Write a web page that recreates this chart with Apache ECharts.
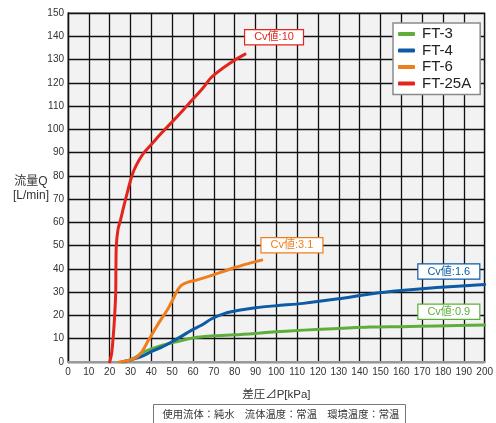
<!DOCTYPE html>
<html><head><meta charset="utf-8">
<script src="https://cdn.jsdelivr.net/npm/echarts@6/dist/echarts.min.js"></script>
<style>html,body{margin:0;padding:0;background:#fff}#c{width:496px;height:423px}</style>
</head><body><div id="c"></div>
<script>
const seriesNames = ['FT-3', 'FT-4', 'FT-6', 'FT-25A'];
const cvLabels = ['Cv値:0.9', 'Cv値:1.6', 'Cv値:3.1', 'Cv値:10'];
const ft3 = [[26,0],[30,1],[33,2.3],[35.4,3.9],[40,5.6],[45,7.1],[50,8.3],[56,9.6],[62,10.6],[70,11.3],[80,11.7],[90,12.3],[100,13],[113,13.7],[130,14.4],[145,15],[160,15.2],[177,15.5],[200,15.9]];
const ft4 = [[26,0],[30.6,1],[35.4,2.4],[40.2,4.6],[45,6.4],[49.7,8.6],[54.4,11],[59.2,13.6],[64,15.8],[69,18.6],[75,20.8],[82,22.2],[90,23.3],[100,24.2],[113,25.2],[130,27.2],[145,29.2],[160,30.7],[177,32],[200,33.3]];
const ft6 = [[24.6,0],[29,0.7],[33,2.1],[35.4,4.3],[38.6,9.3],[43.3,16.4],[48,22.9],[50.5,27.1],[52,30],[54.4,32.9],[57.6,34.3],[62,35.3],[69,37.2],[78.6,40.2],[86.5,42.3],[93,43.8]];
const ft25a = [[20,0],[21,4],[21.8,12],[22.4,20],[22.9,30],[23,40],[23.2,50],[24,57],[25.2,61],[26.8,67],[28.4,72.6],[30,78],[31.6,82.3],[34,86.6],[36.5,90],[40.5,94],[45,98.5],[50,103.2],[55,108],[59.5,112.5],[65,118],[69,122.5],[77,128],[85,132.3]];
const xTicks = {min: 0, max: 200, step: 10};
const yTicks = {min: 0, max: 150, step: 10};

const FONT = '"Liberation Sans", "Noto Sans CJK JP", sans-serif';
const colors = ['#5fae3c', '#0d5aa5', '#f07d1b', '#e3261c'];
const labelPos = [[182.8, 21.6], [182.8, 38.9], [107.5, 50.2], [98.9, 139.6]];
const datasets = [ft3, ft4, ft6, ft25a];

const chart = echarts.init(document.getElementById('c'), null, {renderer: 'canvas'});
chart.setOption({
  animation: false,
  textStyle: {fontFamily: FONT},
  grid: {left: 68, right: 8, top: 13, bottom: 61, show: true, backgroundColor: '#f2f2f2', borderColor: '#8a8a8a', borderWidth: 1.5},
  legend: {
    orient: 'vertical', left: 393, top: 23,
    backgroundColor: '#fff', borderColor: '#8a8a8a', borderWidth: 1.5,
    padding: [3, 9, 3, 5], itemGap: 0.5, itemWidth: 17, itemHeight: 4,
    icon: 'roundRect',
    textStyle: {fontSize: 15, color: '#222', fontFamily: FONT, lineHeight: 16, padding: [0, 0, 0, 2]},
    data: seriesNames
  },
  xAxis: {
    type: 'value', min: xTicks.min, max: xTicks.max, interval: xTicks.step,
    name: '差圧⊿P[kPa]', nameLocation: 'middle', nameGap: 27,
    nameTextStyle: {fontSize: 11.5, color: '#333', fontFamily: FONT},
    axisLine: {show: true, lineStyle: {color: '#9a9a9a', width: 2}},
    axisTick: {show: false},
    axisLabel: {fontSize: 10, color: '#333', margin: 5, fontFamily: FONT},
    splitLine: {show: true, lineStyle: {color: '#111', width: 1.3}}
  },
  yAxis: {
    type: 'value', min: yTicks.min, max: yTicks.max, interval: yTicks.step,
    axisLine: {show: true, lineStyle: {color: '#111', width: 1.3}},
    axisTick: {show: false},
    axisLabel: {fontSize: 10, color: '#333', margin: 4, fontFamily: FONT},
    splitLine: {show: true, lineStyle: {color: '#111', width: 1.3}}
  },
  series: datasets.map((d, i) => ({
    name: seriesNames[i], type: 'line', data: d,
    showSymbol: false, smooth: 0.3,
    color: colors[i],
    lineStyle: {width: 3, color: colors[i], cap: 'round', join: 'round'},
    z: 3 + i,
    markPoint: {
      silent: true,
      symbol: 'circle', symbolSize: 0,
      label: {
        show: true, position: 'inside', color: colors[i], fontSize: 11, fontFamily: FONT,
        formatter: cvLabels[i], backgroundColor: '#fff', borderColor: colors[i], borderWidth: 1.2,
        padding: [2, 9, 1, 9], opacity: 1
      },
      data: [{coord: labelPos[i]}]
    }
  })),
  graphic: [
    {type: 'text', x: 31, y: 189, style: {text: '流量Q\n[L/min]', align: 'center', verticalAlign: 'middle', lineHeight: 14, fill: '#333', font: '12px "Liberation Sans", "Noto Sans CJK JP", sans-serif'}},
    {
    type: 'group', left: 153, top: 404,
    children: [
      {type: 'rect', shape: {x: 0, y: 0, width: 252, height: 30}, style: {fill: '#fff', stroke: '#777', lineWidth: 1}},
      {type: 'text', left: 9, top: 4, style: {text: '使用流体：純水　流体温度：常温　環境温度：常温', fill: '#333', font: '10.3px "Noto Sans CJK JP", sans-serif'}}
    ]
  }]
});
</script></body></html>
